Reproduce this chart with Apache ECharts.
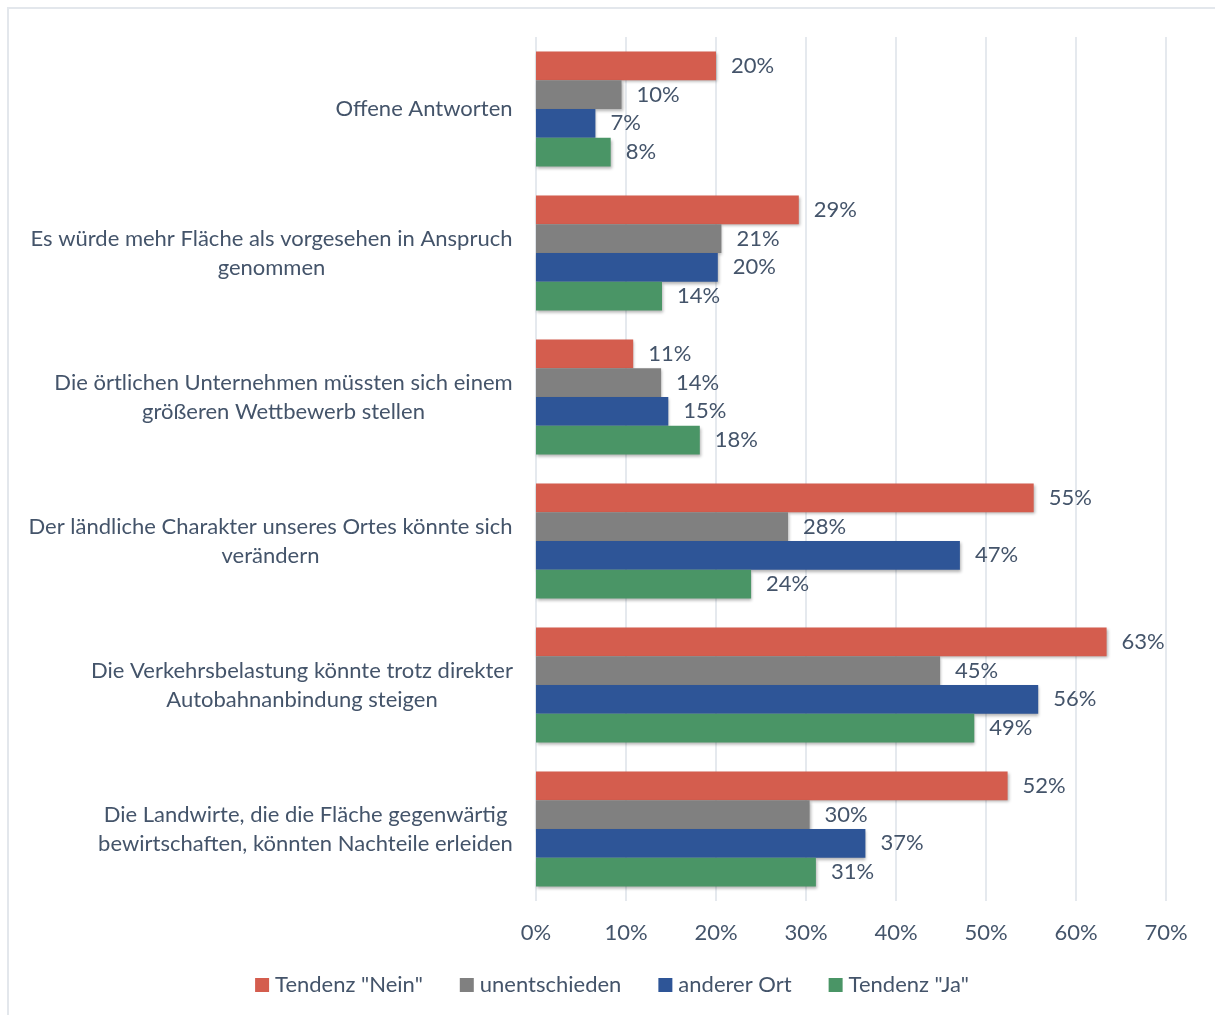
<!DOCTYPE html>
<html>
<head>
<meta charset="utf-8">
<script src="https://cdn.jsdelivr.net/npm/echarts@6/dist/echarts.min.js"></script>
<style>
  html, body { margin: 0; padding: 0; background: #fff; }
  #chart {
    position: absolute; left: 7px; top: 7px; width: 1208px; height: 1008px;
    border-top: 2px solid #E3E7EC; border-left: 2px solid #E3E7EC; box-sizing: border-box;
  }
</style>
</head>
<body>
<div id="chart"></div>
<script>
// Kategorien (von oben nach unten)
var categories = [
  'Offene Antworten',
  'Es würde mehr Fläche als vorgesehen in Anspruch\ngenommen',
  'Die örtlichen Unternehmen müssten sich einem\ngrößeren Wettbewerb stellen',
  'Der ländliche Charakter unseres Ortes könnte sich\nverändern',
  'Die Verkehrsbelastung könnte trotz direkter\nAutobahnanbindung steigen',
  'Die Landwirte, die die Fläche gegenwärtig\nbewirtschaften, könnten Nachteile erleiden'
]
var seriesNames = ['Tendenz "Nein"', 'unentschieden', 'anderer Ort', 'Tendenz "Ja"']
var tendenzNein = [20.0, 29.2, 10.8, 55.3, 63.4, 52.4]
var unentschieden = [9.5, 20.6, 13.9, 28.0, 44.9, 30.4]
var andererOrt = [6.6, 20.2, 14.7, 47.1, 55.8, 36.6]
var tendenzJa = [8.3, 14.0, 18.2, 23.9, 48.7, 31.1]
var xTicks = [0, 10, 20, 30, 40, 50, 60, 70]

var colors = ['#D45D4E', '#808080', '#2E5597', '#4A9566']
var textColor = '#44546A'
var fontFamily = 'Lato, "Open Sans", sans-serif'
var fontSize = 22

// mehrzeilige Beschriftungen zentriert, Block rechtsbündig
var ctx = document.createElement('canvas').getContext('2d')
ctx.font = fontSize + 'px ' + fontFamily
var rich = {}
categories.forEach(function(c, i) {
  var w = 0
  c.split('\n').forEach(function(l) { w = Math.max(w, ctx.measureText(l).width) })
  rich['c' + i] = { width: Math.ceil(w) + 2, align: 'center', color: textColor, fontSize: fontSize, fontFamily: fontFamily, lineHeight: 29 }
})

var chart = echarts.init(document.getElementById('chart'))
var allValues = [tendenzNein, unentschieden, andererOrt, tendenzJa]
var series = allValues.map(function(vals, i) {
  return {
    name: seriesNames[i],
    type: 'bar',
    data: vals,
    barGap: '0%',
    barCategoryGap: '20%',
    itemStyle: {
      color: colors[i],
      shadowBlur: 3,
      shadowColor: 'rgba(0,0,0,0.3)',
      shadowOffsetX: 1,
      shadowOffsetY: 2
    },
    label: {
      show: true,
      position: 'right',
      distance: 15,
      color: textColor,
      fontSize: fontSize,
      fontFamily: fontFamily,
      formatter: function(p) { return Math.round(p.value) + '%' }
    }
  }
})

chart.setOption({
  animation: false,
  textStyle: { fontFamily: fontFamily },
  grid: { left: 527, right: 49, top: 28, bottom: 114, containLabel: false },
  legend: {
    bottom: 14,
    left: 'center',
    icon: 'rect',
    itemWidth: 14,
    itemHeight: 14,
    itemGap: 37,
    textStyle: { color: textColor, fontSize: fontSize, fontFamily: fontFamily, padding: [0, 0, 0, 1] },
    data: seriesNames
  },
  xAxis: {
    type: 'value',
    min: 0,
    max: 70,
    interval: 10,
    axisLine: { show: false },
    axisTick: { show: false },
    splitLine: { lineStyle: { color: '#DDE2E9', width: 1.5 } },
    axisLabel: {
      color: textColor, fontSize: fontSize, fontFamily: fontFamily, margin: 21,
      formatter: function(v) { return xTicks.indexOf(v) >= 0 ? v + '%' : '' }
    }
  },
  yAxis: {
    type: 'category',
    inverse: true,
    data: categories,
    axisLine: { show: false },
    axisTick: { show: false },
    axisLabel: {
      margin: 22,
      formatter: function(v, i) {
        return v.split('\n').map(function(l) { return '{c' + i + '|' + l + '}' }).join('\n')
      },
      rich: rich
    }
  },
  series: series
})
</script>
</body>
</html>
